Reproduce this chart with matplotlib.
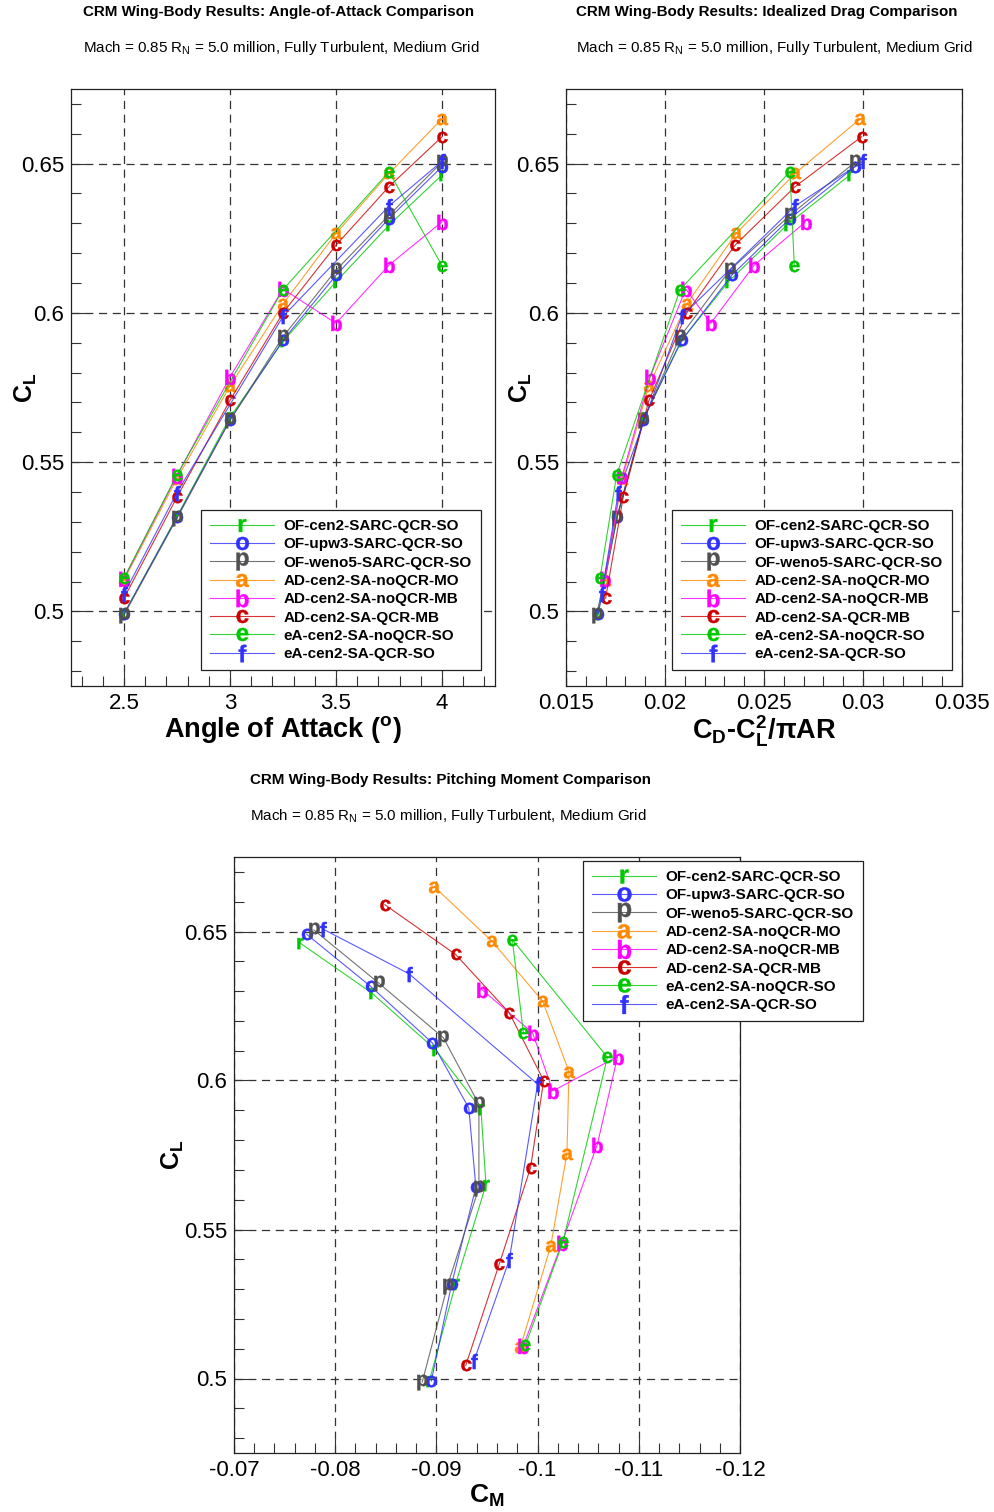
import numpy as np
import matplotlib
matplotlib.use('Agg')
import matplotlib.pyplot as plt
from matplotlib.textpath import TextPath
from matplotlib.font_manager import FontProperties
from matplotlib.path import Path
from matplotlib.ticker import MultipleLocator, FuncFormatter

plt.rcParams['font.family'] = ['Liberation Sans', 'DejaVu Sans']
plt.rcParams['mathtext.fontset'] = 'custom'
plt.rcParams['mathtext.rm'] = 'Liberation Sans'
plt.rcParams['mathtext.it'] = 'Liberation Sans:italic'
plt.rcParams['mathtext.bf'] = 'Liberation Sans:bold'
plt.rcParams['axes.unicode_minus'] = False

# ---------------- data ----------------
names = ['OF-cen2-SARC-QCR-SO', 'OF-upw3-SARC-QCR-SO', 'OF-weno5-SARC-QCR-SO',
         'AD-cen2-SA-noQCR-MO', 'AD-cen2-SA-noQCR-MB', 'AD-cen2-SA-QCR-MB',
         'eA-cen2-SA-noQCR-SO', 'eA-cen2-SA-QCR-SO']
symbols = ['r', 'o', 'p', 'a', 'b', 'c', 'e', 'f']
colors = ['#00c800', '#3030ff', '#505050', '#ff8800', '#ff00ff', '#cc0000', '#00c800', '#3030ff']

alpha_full = [2.5, 2.75, 3.0, 3.25, 3.5, 3.75, 4.0]
alpha_eA = [2.5, 2.75, 3.25, 3.75, 4.0]

CL_r = [0.4992, 0.5318, 0.5650, 0.5905, 0.6104, 0.6294, 0.6462]
CL_o = [0.4992, 0.5316, 0.5642, 0.5908, 0.6126, 0.6316, 0.6490]
CL_p = [0.4988, 0.5312, 0.5640, 0.5920, 0.6143, 0.6327, 0.6505]
CL_a = [0.5105, 0.5445, 0.5755, 0.6030, 0.6266, 0.6467, 0.6650]
CL_b = [0.5110, 0.5455, 0.5785, 0.6080, 0.5965, 0.6160, 0.6305]
CL_c = [0.5044, 0.5383, 0.5707, 0.6000, 0.6227, 0.6423, 0.6590]
CL_e = [0.5112, 0.5458, 0.6078, 0.6473, 0.6158]
CL_f = [0.5058, 0.5398, 0.5988, 0.6358, 0.6508]

CD_r = [0.01660, 0.01760, 0.01895, 0.02080, 0.02320, 0.02615, 0.02934]
CD_o = [0.01663, 0.01758, 0.01890, 0.02084, 0.02337, 0.02631, 0.02960]
CD_p = [0.01655, 0.01756, 0.01890, 0.02076, 0.02328, 0.02631, 0.02960]
CD_a = [0.01697, 0.01784, 0.01918, 0.02110, 0.02359, 0.02657, 0.02985]
CD_b = [0.01697, 0.01784, 0.01924, 0.02105, 0.02231, 0.02451, 0.02710]
CD_c = [0.01700, 0.01789, 0.01919, 0.02110, 0.02354, 0.02657, 0.02993]
CD_e = [0.01672, 0.01756, 0.02076, 0.02631, 0.02653]
CD_f = [0.01680, 0.01764, 0.02084, 0.02657, 0.03000]

CM_r = [-0.0893, -0.0919, -0.0949, -0.0944, -0.0899, -0.0836, -0.0765]
CM_o = [-0.0895, -0.0915, -0.0939, -0.0932, -0.0896, -0.0835, -0.0772]
CM_p = [-0.0886, -0.0911, -0.0942, -0.0942, -0.0907, -0.0843, -0.0779]
CM_a = [-0.0983, -0.1013, -0.1029, -0.1031, -0.1005, -0.0955, -0.0898]
CM_b = [-0.0986, -0.1024, -0.1059, -0.1079, -0.1015, -0.0995, -0.0945]
CM_c = [-0.0929, -0.0962, -0.0993, -0.1006, -0.0972, -0.0919, -0.0849]
CM_e = [-0.0988, -0.1025, -0.1069, -0.0975, -0.0986]
CM_f = [-0.0937, -0.0972, -0.1000, -0.0873, -0.0788]

alphas = [alpha_full] * 6 + [alpha_eA] * 2
CLs = [CL_r, CL_o, CL_p, CL_a, CL_b, CL_c, CL_e, CL_f]
CDs = [CD_r, CD_o, CD_p, CD_a, CD_b, CD_c, CD_e, CD_f]
CMs = [CM_r, CM_o, CM_p, CM_a, CM_b, CM_c, CM_e, CM_f]

title_main = ['CRM Wing-Body Results: Angle-of-Attack Comparison',
              'CRM Wing-Body Results: Idealized Drag Comparison',
              'CRM Wing-Body Results: Pitching Moment Comparison']
subtitle = r'Mach = 0.85 R$_\mathrm{N}$ = 5.0 million, Fully Turbulent, Medium Grid'

# ---------------- helpers ----------------
GLYPH = FontProperties(family='Liberation Sans', weight='bold')
EM_PT = 15.0


def letter_marker(ch, em_pt=EM_PT):
    tp = TextPath((0, 0), ch, size=1, prop=GLYPH)
    ext = tp.get_extents()
    cx, cy = (ext.x0 + ext.x1) / 2, (ext.y0 + ext.y1) / 2
    v = tp.vertices - [cx, cy]
    path = Path(v, tp.codes)
    rescale = np.max(np.abs(v))
    return path, em_pt * 2 * rescale


W, H = 995, 1512
fig = plt.figure(figsize=(W / 100, H / 100), dpi=100)


def axes_px(x0, y0, x1, y1):
    return fig.add_axes([x0 / W, 1 - y1 / H, (x1 - x0) / W, (y1 - y0) / H])


fmt = FuncFormatter(lambda v, p: f'{round(v, 5):g}')


def style_axes(ax, xmaj, xmin):
    ax.set_ylim(0.475, 0.675)
    ax.xaxis.set_major_locator(MultipleLocator(xmaj))
    ax.xaxis.set_minor_locator(MultipleLocator(xmin))
    ax.yaxis.set_major_locator(MultipleLocator(0.05))
    ax.yaxis.set_minor_locator(MultipleLocator(0.01))
    ax.xaxis.set_major_formatter(fmt)
    ax.yaxis.set_major_formatter(fmt)
    ax.tick_params(which='both', direction='in', top=False, right=False,
                   labelsize=16, width=0.8, color='#333333')
    ax.tick_params(which='major', length=10, pad=5)
    ax.tick_params(which='minor', length=7)
    ax.grid(True, which='major', color='#333333', linewidth=0.9,
            linestyle=(0, (6.5, 4.5)))
    ax.set_axisbelow(True)
    for s in ax.spines.values():
        s.set_color('#222222')
        s.set_linewidth(0.9)


def plot_series(ax, xs_list):
    handles = []
    for xs, ys, sym, col, name in zip(xs_list, CLs, symbols, colors, names):
        path, ms = letter_marker(sym)
        h, = ax.plot(xs, ys, color=col + 'cc', linewidth=0.8, marker=path,
                     markersize=ms, markerfacecolor=col, markeredgecolor=col,
                     markeredgewidth=0.3, label=name)
        handles.append(h)
    return handles


def add_legend(ax, handles, x_px, y_px, mscale=1.15):
    leg = ax.legend(handles=handles, loc='upper left',
                    bbox_to_anchor=(x_px / W, 1 - y_px / H),
                    bbox_transform=fig.transFigure, borderaxespad=0,
                    prop=FontProperties(family='Liberation Sans', weight='bold', size=11),
                    handlelength=4.2, handletextpad=0.6, labelspacing=0.28,
                    borderpad=0.6, markerscale=mscale, fancybox=False,
                    framealpha=1, edgecolor='#222222')
    leg.get_frame().set_linewidth(0.9)
    return leg


# ---------------- top-left: CL vs alpha ----------------
ax1 = axes_px(71, 89, 495, 686)
style_axes(ax1, 0.5, 0.1)
ax1.set_xlim(2.25, 4.25)
h1 = plot_series(ax1, alphas)
add_legend(ax1, h1, 201, 510)
ax1.set_xlabel(r'Angle of Attack ($^\mathbf{o}$)', fontsize=19.5, fontweight='bold')
ax1.xaxis.set_label_coords(0.5, -0.047)
ax1.set_ylabel(r'C$_\mathbf{L}$', fontsize=18, fontweight='bold')
ax1.yaxis.set_label_coords(-0.075, 0.5)

# ---------------- top-right: CL vs CD ideal ----------------
ax2 = axes_px(566, 89, 962, 686)
style_axes(ax2, 0.005, 0.001)
ax2.set_xlim(0.015, 0.035)
h2 = plot_series(ax2, CDs)
add_legend(ax2, h2, 672, 510)
ax2.set_xlabel(r'C$_\mathbf{D}$-C$_\mathbf{L}^\mathbf{2}$/πAR', fontsize=19.5, fontweight='bold')
ax2.xaxis.set_label_coords(0.5, -0.047)
ax2.set_ylabel(r'C$_\mathbf{L}$', fontsize=18, fontweight='bold')
ax2.yaxis.set_label_coords(-0.08, 0.5)

# ---------------- bottom: CL vs CM ----------------
ax3 = axes_px(234, 857, 740, 1453)
style_axes(ax3, 0.01, 0.002)
ax3.set_xlim(-0.07, -0.12)
h3 = plot_series(ax3, CMs)
add_legend(ax3, h3, 583, 861, mscale=1.25)
ax3.set_xlabel(r'C$_\mathbf{M}$', fontsize=19, fontweight='bold')
ax3.xaxis.set_label_coords(0.5, -0.05)
ax3.set_ylabel(r'C$_\mathbf{L}$', fontsize=18, fontweight='bold')
ax3.yaxis.set_label_coords(-0.094, 0.5)

# ---------------- titles ----------------
for (x, y1, y2), t in zip([(83, 12, 48), (576, 12, 48), (250, 780, 816)], title_main):
    fig.text(x / W, 1 - y1 / H, t, fontsize=10.9, fontweight='bold', va='center', ha='left')
    fig.text(x / W, 1 - y2 / H, subtitle, fontsize=10.9, va='center', ha='left')

fig.savefig('out.png', dpi=100)
